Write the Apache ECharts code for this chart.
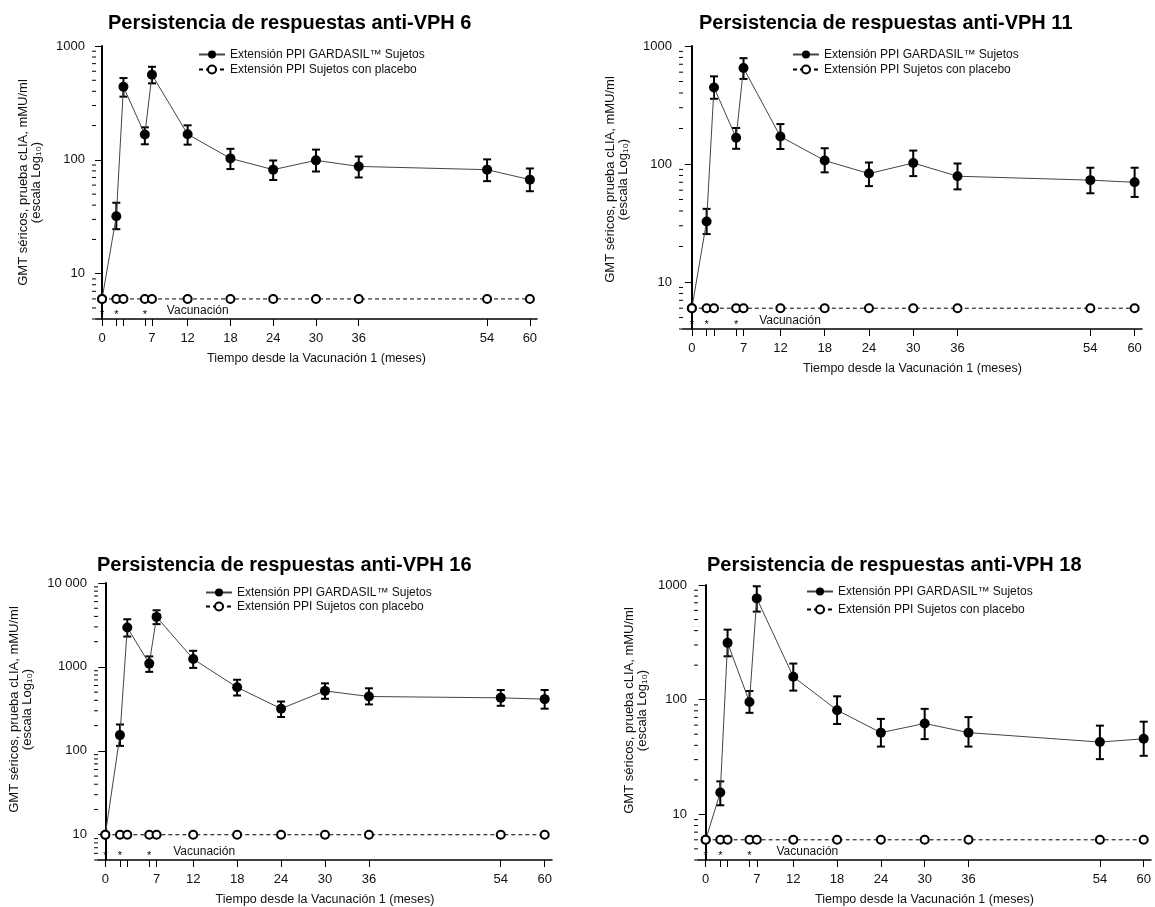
<!DOCTYPE html>
<html>
<head>
<meta charset="utf-8">
<title>Persistencia de respuestas anti-VPH</title>
<script src="https://cdn.jsdelivr.net/npm/echarts@6/dist/echarts.min.js"></script>
<style>
    html, body { margin: 0; padding: 0; background: #fff; }
    #chart { width: 1155px; height: 907px; }
</style>
</head>
<body>
<div id="chart"></div>
<script>
// --- Data ---
const MONTHS = [0, 2, 3, 6, 7, 12, 18, 24, 30, 36, 54, 60];
const LABEL_MONTHS = [0, 7, 12, 18, 24, 30, 36, 54, 60];
const DOSE_MONTHS = [0, 2, 6];

const SERIES_GARDASIL = 'Extensión PPI GARDASIL™ Sujetos';
const SERIES_PLACEBO = 'Extensión PPI Sujetos con placebo';

// anti-VPH 6
const VPH6_GMT = [6, 32, 438, 167, 559, 168, 103, 82, 99, 87.5, 82, 67];
const VPH6_LO = [null, 24.6, 359, 137, 470, 136, 83, 66.5, 79, 70, 65, 53];
const VPH6_HI = [null, 42, 523, 193, 657, 201, 125, 98.7, 123, 107, 101, 84];
const VPH6_PLACEBO = [6, 6, 6, 6, 6, 6, 6, 6, 6, 6, 6, 6];

// anti-VPH 11
const VPH11_GMT = [6, 32.6, 445, 167, 650, 171, 107, 83, 102, 78.8, 73, 70];
const VPH11_LO = [null, 25.5, 357, 134.6, 526, 134, 85, 65, 79, 61, 56.5, 52.6];
const VPH11_HI = [null, 41.7, 553, 202, 789, 218, 136, 103, 130, 101, 93, 93];
const VPH11_PLACEBO = [6, 6, 6, 6, 6, 6, 6, 6, 6, 6, 6, 6];

// anti-VPH 16
const VPH16_GMT = [10, 154, 2950, 1095, 3945, 1242, 571, 318, 518, 444, 428, 413];
const VPH16_LO = [null, 114.5, 2300, 873, 3235, 973, 456, 253, 417, 357, 344, 318];
const VPH16_HI = [null, 206, 3700, 1335, 4730, 1556, 703, 387, 637, 556, 531, 531];
const VPH16_PLACEBO = [10, 10, 10, 10, 10, 10, 10, 10, 10, 10, 10, 10];

// anti-VPH 18
const VPH18_GMT = [6, 15.5, 313, 95.5, 764, 158.6, 81, 51.6, 62, 51.6, 42.7, 45.6];
const VPH18_LO = [null, 12.0, 239, 76.8, 586, 120, 61.4, 39, 45.3, 39, 30.3, 32.4];
const VPH18_HI = [null, 19.4, 408, 119, 975, 206.5, 107, 68, 83.2, 70.5, 59.4, 64.3];
const VPH18_PLACEBO = [6, 6, 6, 6, 6, 6, 6, 6, 6, 6, 6, 6];

// --- Panel layout ---
const PANELS = [
    { title: 'Persistencia de respuestas anti-VPH 6', gmt: VPH6_GMT, lo: VPH6_LO, hi: VPH6_HI, placebo: VPH6_PLACEBO,
      grid: { left: 96, top: 46, width: 441, height: 273 }, xMin: -0.85, yMin: 4, yMax: 1000,
      titlePos: [108, 13], legendPos: [198, 48], legendGap: 2, yNameGap: 53, yNameShift: 0, vacOffset: 22 },
    { title: 'Persistencia de respuestas anti-VPH 11', gmt: VPH11_GMT, lo: VPH11_LO, hi: VPH11_HI, placebo: VPH11_PLACEBO,
      grid: { left: 683, top: 46, width: 459, height: 283 }, xMin: -1.2, yMin: 4, yMax: 1000,
      titlePos: [699, 13], legendPos: [792, 48], legendGap: 2, yNameGap: 53, yNameShift: 16, vacOffset: 23 },
    { title: 'Persistencia de respuestas anti-VPH 16', gmt: VPH16_GMT, lo: VPH16_LO, hi: VPH16_HI, placebo: VPH16_PLACEBO,
      grid: { left: 98, top: 583, width: 454, height: 279 }, xMin: -1.0, yMin: 5, yMax: 10000,
      titlePos: [97, 555], legendPos: [205, 586], legendGap: 1, yNameGap: 64, yNameShift: 24, vacOffset: 24 },
    { title: 'Persistencia de respuestas anti-VPH 18', gmt: VPH18_GMT, lo: VPH18_LO, hi: VPH18_HI, placebo: VPH18_PLACEBO,
      grid: { left: 698, top: 585, width: 453, height: 277 }, xMin: -1.05, yMin: 4, yMax: 1000,
      titlePos: [707, 555], legendPos: [806, 585], legendGap: 5, yNameGap: 49, yNameShift: 24, vacOffset: 27 }
];

const FONT = 'Liberation Sans, Arial, Helvetica, sans-serif';
const INK = '#111';

// log-scale minor ticks (2..9 of each decade) inside [min, max]
const minorTicks = (min, max) => {
    const out = [];
    for (let d = 1; d <= max; d *= 10) {
        for (let k = 2; k <= 9; k++) {
            const v = k * d;
            if (v >= min && v < max) out.push(v);
        }
    }
    return out;
};

const option = {
    animation: false,
    backgroundColor: '#fff',
    title: [], legend: [], grid: [], xAxis: [], yAxis: [], series: []
};

PANELS.forEach((p, i) => {
    option.title.push({
        text: p.title, left: p.titlePos[0], top: p.titlePos[1], padding: 0,
        textStyle: { fontFamily: FONT, fontSize: 20, fontWeight: 'bold', color: '#000', lineHeight: 20 }
    });

    option.legend.push({
        left: p.legendPos[0], top: p.legendPos[1], padding: 0,
        orient: 'vertical', itemWidth: 26, itemHeight: 10, itemGap: p.legendGap,
        data: [SERIES_GARDASIL, SERIES_PLACEBO],
        textStyle: { fontFamily: FONT, fontSize: 12, lineHeight: 13, color: INK },
        selectedMode: false
    });

    option.grid.push(Object.assign({ containLabel: false }, p.grid));

    option.xAxis.push({
        type: 'value', gridIndex: i, min: p.xMin, max: 61,
        name: 'Tiempo desde la Vacunación 1 (meses)', nameLocation: 'middle', nameGap: 33,
        nameTextStyle: { fontFamily: FONT, fontSize: 12.5, color: INK },
        axisLine: { onZero: false, lineStyle: { color: '#000', width: 1.5 } },
        axisTick: { show: true, length: 7, customValues: MONTHS, lineStyle: { color: '#000', width: 1 } },
        axisLabel: { customValues: LABEL_MONTHS, margin: 13, fontFamily: FONT, fontSize: 13, color: INK },
        splitLine: { show: false }
    });

    option.yAxis.push({
        type: 'log', logBase: 10, gridIndex: i, min: p.yMin, max: p.yMax,
        name: 'GMT séricos, prueba cLIA, mMU/ml\n(escala Log₁₀)',
        nameLocation: 'middle', nameRotate: 90, nameGap: p.yNameGap,
        nameTextStyle: { fontFamily: FONT, fontSize: 13, lineHeight: 13, color: INK, align: 'center',
                         padding: [0, 0, 0, p.yNameShift] },
        axisLine: { show: true, lineStyle: { color: '#000', width: 2 } },
        axisTick: { show: true, length: 7, lineStyle: { color: '#000', width: 1 } },
        axisLabel: {
            showMinLabel: false, margin: 11, fontFamily: FONT, fontSize: 13, color: INK,
            formatter: v => (v === 10000 ? '10 000' : String(Math.round(v)))
        },
        splitLine: { show: false }
    });

    // minor ticks of the log axis
    option.series.push({
        type: 'custom', xAxisIndex: i, yAxisIndex: i, silent: true, clip: false,
        data: minorTicks(p.yMin, p.yMax).map(v => [p.xMin, v]),
        renderItem: (params, api) => {
            const pt = api.coord([api.value(0), api.value(1)]);
            return {
                type: 'line',
                shape: { x1: pt[0] - 4, y1: pt[1], x2: pt[0], y2: pt[1] },
                style: { stroke: '#000', lineWidth: 1 }
            };
        }
    });

    // 95% CI error bars
    option.series.push({
        type: 'custom', xAxisIndex: i, yAxisIndex: i, silent: true, clip: false, z: 3,
        data: MONTHS.map((m, k) => [m, p.lo[k], p.hi[k]]).filter(d => d[1] != null),
        renderItem: (params, api) => {
            const x = api.value(0);
            const a = api.coord([x, api.value(1)]);
            const b = api.coord([x, api.value(2)]);
            const w = 4;
            const st = { stroke: '#000', lineWidth: 2 };
            return {
                type: 'group',
                children: [
                    { type: 'line', shape: { x1: a[0], y1: a[1], x2: b[0], y2: b[1] }, style: st },
                    { type: 'line', shape: { x1: a[0] - w, y1: a[1], x2: a[0] + w, y2: a[1] }, style: st },
                    { type: 'line', shape: { x1: b[0] - w, y1: b[1], x2: b[0] + w, y2: b[1] }, style: st }
                ]
            };
        }
    });

    option.series.push({
        name: SERIES_GARDASIL, type: 'line', xAxisIndex: i, yAxisIndex: i, z: 4,
        data: MONTHS.map((m, k) => [m, p.gmt[k]]),
        symbol: 'circle', symbolSize: 10,
        itemStyle: { color: '#000' },
        lineStyle: { color: '#444', width: 1 }
    });

    option.series.push({
        name: SERIES_PLACEBO, type: 'line', xAxisIndex: i, yAxisIndex: i, z: 5,
        data: MONTHS.map((m, k) => [m, p.placebo[k]]),
        symbol: 'circle', symbolSize: 8,
        itemStyle: { color: '#fff', borderColor: '#000', borderWidth: 2 },
        lineStyle: { color: '#000', width: 1, type: [4, 3] }
    });

    // vaccination doses: asterisks above the time axis + label
    option.series.push({
        type: 'custom', xAxisIndex: i, yAxisIndex: i, silent: true, clip: false,
        data: DOSE_MONTHS.map(m => [m, p.yMin]),
        renderItem: (params, api) => {
            const pt = api.coord([api.value(0), api.value(1)]);
            const children = [{
                type: 'text',
                style: { text: '*', x: pt[0], y: pt[1] + 1, align: 'center', verticalAlign: 'bottom',
                         fontFamily: FONT, fontSize: 11, fill: '#000' }
            }];
            if (params.dataIndex === DOSE_MONTHS.length - 1) {
                children.push({
                    type: 'text',
                    style: { text: 'Vacunación', x: pt[0] + p.vacOffset, y: pt[1] - 8, align: 'left',
                             verticalAlign: 'middle', fontFamily: FONT, fontSize: 12, fill: INK }
                });
            }
            return { type: 'group', children };
        }
    });
});

const chart = echarts.init(document.getElementById('chart'), null, { renderer: 'canvas' });
chart.setOption(option);
</script>
</body>
</html>
